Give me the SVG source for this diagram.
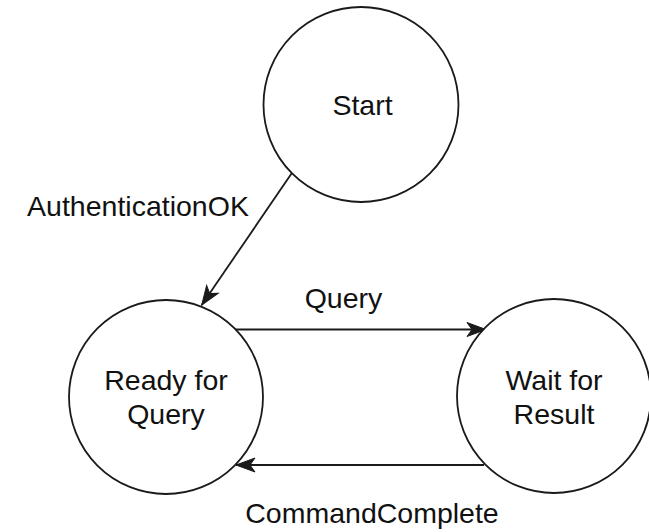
<svg xmlns="http://www.w3.org/2000/svg" width="649" height="532" viewBox="0 0 649 532">
  <style>
    .state { fill: #ffffff; stroke: #1a1a1a; stroke-width: 1.8; }
    .edge { fill: none; stroke: #1a1a1a; stroke-width: 1.8; }
    .lbl { font-family: "Liberation Sans", Arial, Helvetica, sans-serif; font-size: 28.5px; fill: #111111; text-anchor: middle; }
  </style>
  <defs>
    <marker id="arrow" markerUnits="userSpaceOnUse" markerWidth="24" markerHeight="18" viewBox="-20 -9 22 18" refX="0" refY="0" orient="auto">
      <path d="M0,0 L-19,-7 L-14,0 L-19,7 Z" fill="#1a1a1a" stroke="#1a1a1a" stroke-width="1"/>
    </marker>
  </defs>
  <rect width="649" height="532" fill="#ffffff"/>

  <g id="edges">
    <!-- Start -> Ready for Query -->
    <line class="edge" x1="291.7" y1="173.3" x2="201.7" y2="305" marker-end="url(#arrow)"/>
    <!-- Ready for Query -> Wait for Result -->
    <line class="edge" x1="235" y1="329.5" x2="486" y2="329.5" marker-end="url(#arrow)"/>
    <!-- Wait for Result -> Ready for Query -->
    <line class="edge" x1="484" y1="465" x2="236" y2="465" marker-end="url(#arrow)"/>
  </g>

  <g id="edge-labels">
    <text class="lbl" x="138" y="216">AuthenticationOK</text>
    <text class="lbl" x="343.5" y="308">Query</text>
    <text class="lbl" x="372" y="523">CommandComplete</text>
  </g>

  <g id="start">
    <circle class="state" cx="361" cy="104.5" r="97.5"/>
    <text class="lbl" x="362.5" y="115">Start</text>
  </g>

  <g id="ready-for-query">
    <circle class="state" cx="166" cy="397" r="97"/>
    <text class="lbl" x="166" y="390">Ready for</text>
    <text class="lbl" x="166" y="423.5">Query</text>
  </g>

  <g id="wait-for-result">
    <circle class="state" cx="554" cy="396" r="97"/>
    <text class="lbl" x="554" y="390">Wait for</text>
    <text class="lbl" x="554" y="424">Result</text>
  </g>
</svg>
